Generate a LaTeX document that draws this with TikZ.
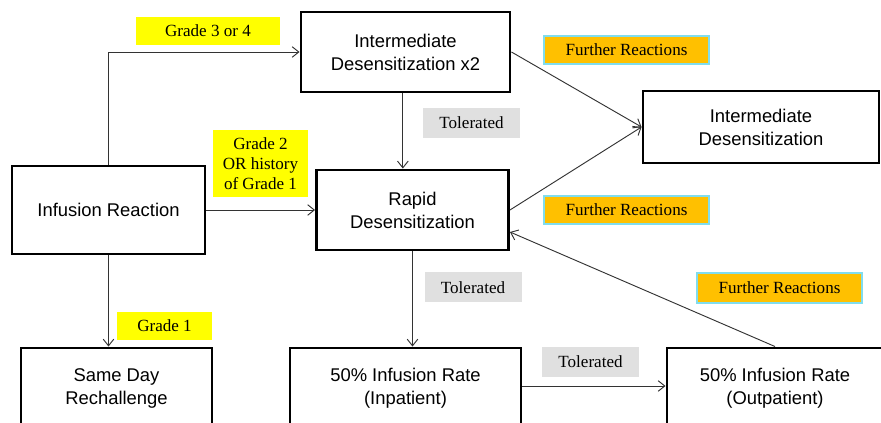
\documentclass[tikz,border=0pt]{standalone}
\usepackage{fontspec}
\setmainfont{Liberation Serif}
\setsansfont{Liberation Sans}
\usetikzlibrary{arrows.meta}
\definecolor{gradeyellow}{HTML}{FFFF00}
\definecolor{reactorange}{HTML}{FFC000}
\definecolor{reactedge}{HTML}{80DDEE}
\definecolor{tolgray}{HTML}{E0E0E0}
\begin{document}
\begin{tikzpicture}[x=0.75pt,y=-0.75pt,>={Straight Barb[length=5pt,width=8pt]},
  stage/.style={draw,line width=2.2pt,align=center,inner sep=0pt,
    font=\sffamily\fontsize{13.8}{17.25}\selectfont},
  grade/.style={fill=gradeyellow,align=center,inner sep=0pt,
    font=\fontsize{12.8}{15}\selectfont},
  tolerated/.style={fill=tolgray,inner sep=0pt,minimum width=72.75pt,
    minimum height=22.5pt,font=\fontsize{12.8}{15}\selectfont},
  further/.style={fill=reactorange,draw=reactedge,line width=0.8pt,inner sep=0pt,
    minimum width=123.75pt,minimum height=21pt,font=\fontsize{12.8}{15}\selectfont},
  link/.style={->,black!80,line width=0.7pt}]
  \useasboundingbox (0,0) rectangle (881,423);
  \fill[white] (0,0) rectangle (881,423);
  \clip (0,0) rectangle (881,423);

  \node[stage,minimum width=144.75pt,minimum height=66pt] (infusion) at (108.5,210) {Infusion Reaction};
  \node[stage,minimum width=156.75pt,minimum height=60pt] (twice) at (405.5,52) {Intermediate\\Desensitization x2};
  \node[stage,minimum width=144pt,minimum height=60pt] (rapid) at (412.5,210) {Rapid\\Desensitization};
  \node[stage,minimum width=177pt,minimum height=54pt] (interm) at (761,127) {Intermediate\\Desensitization};
  \node[stage,minimum width=143.25pt,minimum height=60pt] (sameday) at (116.5,388) {Same Day\\Rechallenge};
  \node[stage,minimum width=173.25pt,minimum height=60pt] (inpat) at (405.5,388) {50\% Infusion Rate\\(Inpatient)};
  \node[stage,minimum width=162pt,minimum height=60pt] (outpat) at (775,388) {50\% Infusion Rate\\(Outpatient)};

  \node[grade,minimum width=108pt,minimum height=21pt] (g34) at (208,31) {Grade 3 or 4};
  \node[grade,minimum width=71.25pt,minimum height=50.25pt] (g2) at (260.5,163.5) {Grade 2\\OR history\\of Grade 1};
  \node[grade,minimum width=71.25pt,minimum height=21pt] (g1) at (164.5,326) {Grade 1};
  \node[tolerated] (tol1) at (471.5,123) {Tolerated};
  \node[tolerated] (tol2) at (473,287.5) {Tolerated};
  \node[tolerated] (tol3) at (590.5,362) {Tolerated};
  \node[further] (fr1) at (626.5,50) {Further Reactions};
  \node[further] (fr2) at (626.5,210) {Further Reactions};
  \node[further,minimum height=22.5pt] (fr3) at (779.5,288) {Further Reactions};

  \draw[link] (infusion.north) |- (twice.west);
  \draw[link] (infusion.east) -- (rapid.west);
  \draw[link] (infusion.south) -- (infusion.south |- sameday.north);
  \draw[link] ([xshift=-2pt]twice.south) -- ([xshift=-2pt]twice.south |- rapid.north);
  \draw[link] (twice.east) -- (interm.west);
  \draw[link] (rapid.east) -- (interm.west);
  \draw[link] (rapid.south) -- (rapid.south |- inpat.north);
  \draw[link] ([yshift=1.5pt]inpat.east) -- ([yshift=1.5pt]outpat.west);
  \draw[link] (outpat.north) -- ([yshift=-16.5pt]rapid.east);
\end{tikzpicture}
\end{document}
